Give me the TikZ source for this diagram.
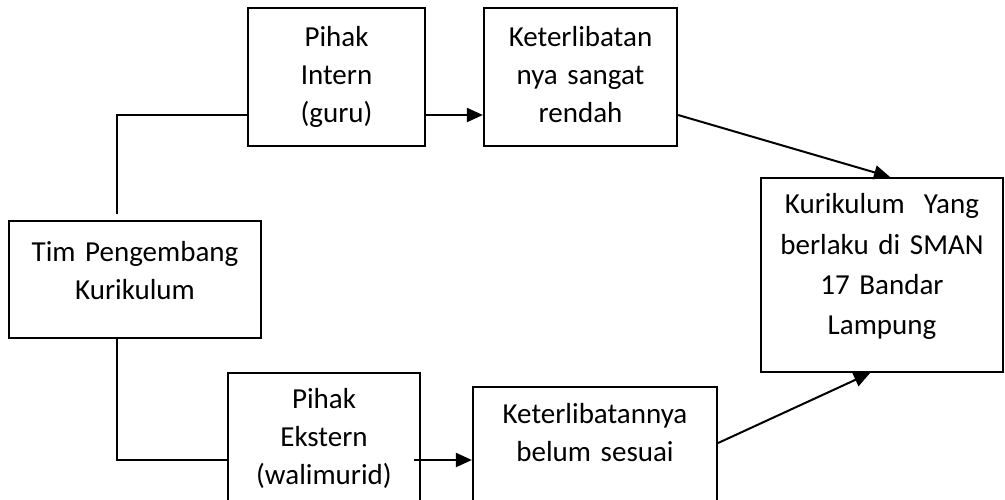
\documentclass[tikz,border=0pt]{standalone}
\usepackage{fontspec}
\setmainfont{Carlito}
\usetikzlibrary{arrows.meta}
\begin{document}
\begin{tikzpicture}[x=1pt,y=-1pt,
  box/.style={draw, line width=2.2pt, inner sep=0pt, rectangle},
  lbl/.style={anchor=base, align=center, text width=260pt, inner sep=0pt,
    font=\fontsize{29}{38}\selectfont},
  conn/.style={line width=2pt},
  arr/.style={conn, -{Triangle[length=16pt,width=14pt]}}]
\useasboundingbox (0,0) rectangle (1005,499);
\fill[white] (0,0) rectangle (1005,499);
\clip (0,0) rectangle (1005,499);

% boxes
\node[box, minimum width=252pt, minimum height=117pt] (tim) at (135,279.5) {};
\node[box, minimum width=177pt, minimum height=138pt] (intern) at (336.5,77) {};
\node[box, minimum width=193pt, minimum height=138pt] (rendah) at (580.5,77) {};
\node[box, minimum width=242pt, minimum height=194pt] (kur) at (882,275) {};
\node[box, minimum width=192pt, minimum height=138pt] (ekstern) at (324,442) {};
\node[box, minimum width=244pt, minimum height=138pt] (sesuai) at (595,456) {};

% box texts
\node[lbl] (timT) at ([yshift=-42pt]tim.north) {Tim Pengembang\\Kurikulum};
\node[lbl] (internT) at ([yshift=-40pt]intern.north) {Pihak\\Intern\\(guru)};
\node[lbl] (rendahT) at ([yshift=-40pt]rendah.north) {Keterlibatan\\nya sangat\\rendah};
\node[lbl, font=\fontsize{29}{40.3}\selectfont] (kurT) at ([yshift=-37pt]kur.north)
  {Kurikulum\ \ Yang\\berlaku di SMAN\\17 Bandar\\Lampung};
\node[lbl] (eksternT) at ([yshift=-37pt]ekstern.north) {Pihak\\Ekstern\\(walimurid)};
\node[lbl] (sesuaiT) at ([yshift=-38pt]sesuai.north) {Keterlibatannya\\belum sesuai};

% connectors
\coordinate (timtop) at (117,214);
\draw[conn] (timtop) |- ([yshift=-38pt]intern.west);
\draw[arr] ([yshift=-38pt]intern.east) -- ([yshift=-38pt]rendah.west);
\draw[arr] ([yshift=-38pt]rendah.east) -- ([xshift=8pt]kur.north);
\draw[conn] ([xshift=-18pt]tim.south) |- ([yshift=-18pt]ekstern.west);
\draw[arr] ([xshift=-7pt,yshift=-18pt]ekstern.east) -- ([yshift=-4pt]sesuai.west);
\draw[arr] ([yshift=13pt]sesuai.east) -- ([xshift=-12pt]kur.south);
\end{tikzpicture}
\end{document}
